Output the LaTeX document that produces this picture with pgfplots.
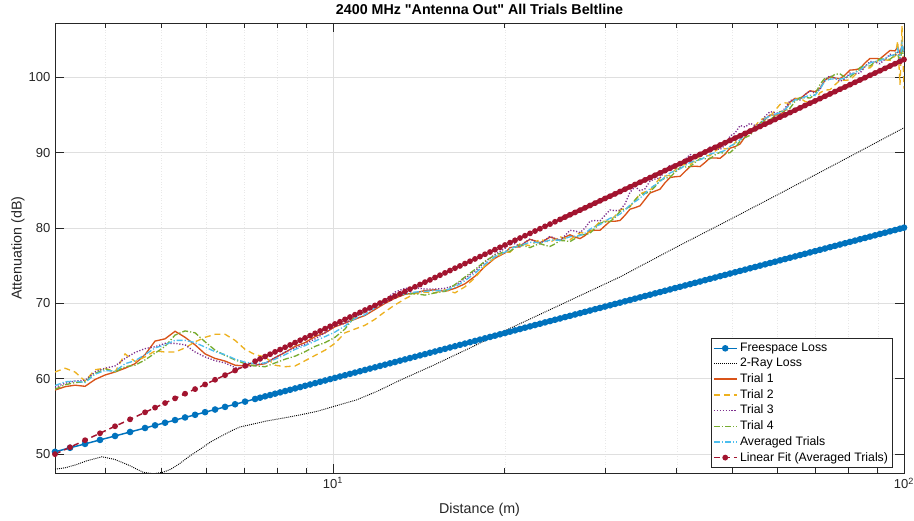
\documentclass[border=0pt]{standalone}
\usepackage{fontspec}
\setmainfont{Liberation Sans}[Ligatures=TeXOff]
\usepackage{pgfplots}
\pgfplotsset{compat=1.18}
\usepackage{pgfplotstable}

\definecolor{cFS}{rgb}{0,0.447,0.741}
\definecolor{cTa}{rgb}{0.851,0.325,0.098}
\definecolor{cTb}{rgb}{0.929,0.694,0.125}
\definecolor{cTc}{rgb}{0.494,0.184,0.557}
\definecolor{cTd}{rgb}{0.466,0.674,0.188}
\definecolor{cAV}{rgb}{0.301,0.745,0.933}
\definecolor{cFit}{rgb}{0.635,0.078,0.184}
\definecolor{axgray}{rgb}{0.15,0.15,0.15}

\pgfplotstableread{
d fs fit
3.260 50.31 50.00
3.464 50.84 50.92
3.680 51.36 51.85
3.909 51.89 52.77
4.153 52.41 53.70
4.412 52.94 54.62
4.687 53.47 55.55
4.880 53.82 56.17
5.081 54.17 56.78
5.290 54.52 57.40
5.508 54.87 58.02
5.735 55.22 58.63
5.971 55.57 59.25
6.217 55.92 59.87
6.472 56.27 60.48
6.739 56.62 61.10
7.016 56.97 61.72
7.305 57.32 62.33
7.454 57.49 62.64
7.606 57.67 62.95
7.761 57.84 63.26
7.919 58.02 63.57
8.080 58.19 63.87
8.245 58.37 64.18
8.413 58.54 64.49
8.584 58.72 64.80
8.759 58.89 65.11
8.937 59.07 65.42
9.119 59.24 65.72
9.305 59.42 66.03
9.495 59.60 66.34
9.688 59.77 66.65
9.885 59.95 66.96
10.081 60.12 67.27
10.287 60.30 67.57
10.496 60.47 67.88
10.710 60.65 68.19
10.928 60.82 68.50
11.151 61.00 68.81
11.378 61.17 69.12
11.610 61.35 69.42
11.846 61.52 69.73
12.087 61.70 70.04
12.333 61.87 70.35
12.584 62.05 70.66
12.841 62.22 70.97
13.103 62.40 71.27
13.369 62.57 71.58
13.641 62.75 71.89
13.920 62.92 72.20
14.203 63.10 72.51
14.492 63.27 72.82
14.787 63.45 73.12
15.089 63.62 73.43
15.396 63.80 73.74
15.710 63.97 74.05
16.030 64.15 74.36
16.356 64.32 74.67
16.689 64.50 74.97
17.029 64.67 75.28
17.376 64.85 75.59
17.730 65.02 75.90
18.091 65.20 76.21
18.460 65.37 76.52
18.836 65.55 76.82
19.220 65.72 77.13
19.611 65.90 77.44
20.011 66.07 77.75
20.418 66.25 78.06
20.834 66.42 78.37
21.258 66.60 78.67
21.692 66.78 78.98
22.134 66.95 79.29
22.584 67.13 79.60
23.044 67.30 79.91
23.514 67.48 80.22
23.993 67.65 80.52
24.482 67.83 80.83
24.981 68.00 81.14
25.489 68.18 81.45
26.008 68.35 81.76
26.538 68.53 82.07
27.079 68.70 82.37
27.630 68.88 82.68
28.193 69.05 82.99
28.768 69.23 83.30
29.354 69.40 83.61
29.952 69.58 83.92
30.562 69.75 84.22
31.185 69.93 84.53
31.820 70.10 84.84
32.468 70.28 85.15
33.129 70.45 85.46
33.804 70.63 85.77
34.493 70.80 86.07
35.196 70.98 86.38
35.913 71.15 86.69
36.644 71.33 87.00
37.390 71.50 87.31
38.152 71.68 87.62
38.929 71.85 87.92
39.722 72.03 88.23
40.531 72.20 88.54
41.357 72.38 88.85
42.199 72.55 89.16
43.059 72.73 89.47
43.936 72.90 89.77
44.831 73.08 90.08
45.744 73.26 90.39
46.676 73.43 90.70
47.627 73.61 91.01
48.597 73.78 91.32
49.587 73.96 91.62
50.597 74.13 91.93
51.628 74.31 92.24
52.680 74.48 92.55
53.753 74.66 92.86
54.848 74.83 93.16
55.965 75.01 93.47
57.105 75.18 93.78
58.268 75.36 94.09
59.455 75.53 94.40
60.666 75.71 94.71
61.902 75.88 95.01
63.163 76.06 95.32
64.450 76.23 95.63
65.763 76.41 95.94
67.08 76.58 96.25
68.45 76.76 96.56
69.84 76.93 96.86
71.27 77.11 97.17
72.72 77.28 97.48
74.20 77.46 97.79
75.71 77.63 98.10
77.25 77.81 98.41
78.83 77.98 98.71
80.43 78.16 99.02
82.07 78.33 99.33
83.74 78.51 99.64
85.45 78.68 99.95
87.19 78.86 100.26
88.96 79.03 100.56
90.77 79.21 100.87
92.62 79.38 101.18
94.51 79.56 101.49
96.44 79.73 101.80
98.40 79.91 102.11
100.00 80.05 102.35
}\fsfit

\pgfplotstableread{
d tworay
3.26 48.0
3.40 48.2
3.55 48.6
3.70 49.1
3.94 49.65
4.15 49.3
4.40 48.5
4.65 47.6
4.85 47.4
5.04 47.6
5.20 48.0
5.39 48.75
5.60 49.7
5.85 50.65
6.10 51.6
6.34 52.3
6.60 53.0
6.87 53.6
7.25 54.0
7.65 54.4
8.2 54.8
8.75 55.2
9.4 55.7
10 56.3
11 57.2
12 58.4
13.1 59.8
15 61.8
17.5 64.2
20.1 66.45
25 69.8
31.8 73.5
40 77.5
49.2 81.0
60 84.4
80 89.4
100 93.3
}\tworay

\pgfplotstableread{
d A T1 T2 T3 T4
3.260 59.1 58.5 60.9 58.85 58.6
3.395 59.6 58.95 61.4 59.4 59.2
3.534 59.7 59.15 60.9 59.7 59.5
3.680 59.5 59.0 59.7 59.8 59.6
3.831 60.6 59.9 61.2 60.9 60.7
3.989 61.1 60.5 61.4 61.4 61.3
4.153 61.0 60.9 60.9 61.7 60.9
4.324 62.0 61.4 63.3 62.7 61.6
4.502 62.4 62.0 62.3 63.5 61.8
4.687 63.2 63.2 62.9 64.0 62.5
4.880 64.1 65.0 63.7 64.25 63.4
5.081 64.5 65.3 63.55 64.7 64.3
5.290 65.1 66.3 63.55 64.7 65.8
5.508 65.1 65.5 64.1 64.5 66.35
5.735 64.8 64.5 64.9 63.55 66.1
5.971 64.2 63.3 65.5 62.9 64.9
6.217 63.6 62.7 65.9 62.4 63.8
6.472 63.2 62.35 65.9 62.1 63.1
6.739 62.6 61.8 65.1 61.5 62.5
7.016 62.2 61.7 63.9 61.5 62.0
7.305 62.0 61.8 63.2 61.8 61.7
7.606 62.1 62.0 62.9 62.1 61.6
7.919 62.6 62.8 61.8 62.8 62.1
8.245 63.2 63.5 61.6 63.55 62.6
8.584 63.9 64.3 61.7 64.1 63.0
8.937 64.4 64.8 62.4 64.6 63.6
9.305 65.0 65.6 63.1 65.3 64.3
9.688 65.6 66.1 63.8 66.1 64.8
10.081 66.2 66.9 64.7 67.0 65.5
10.496 67.0 67.4 66.1 67.35 66.6
10.928 68.0 67.9 66.6 68.2 68.3
11.378 68.5 68.4 67.1 68.8 68.9
11.846 69.4 69.2 67.9 69.6 69.8
12.333 70.2 70.0 68.9 70.5 70.5
12.841 70.9 70.7 69.8 71.5 71.0
13.369 71.3 71.2 70.6 72.0 71.2
13.920 71.5 71.4 71.3 72.1 71.3
14.492 71.6 71.7 71.5 71.9 71.1
15.089 71.7 71.8 71.4 71.9 71.4
15.710 71.7 71.6 71.8 72.0 71.6
16.356 72.2 72.0 71.4 72.4 72.5
17.029 73.0 72.6 72.2 73.3 73.5
17.730 74.0 73.6 73.4 74.3 74.5
18.460 75.2 74.9 75.0 75.5 75.6
19.220 76.2 76.0 76.1 76.5 76.4
20.011 76.8 76.7 76.8 77.3 76.9
20.418 77.25 77.4 76.8 78.0 76.9
20.834 77.5 77.5 77.4 77.9 77.4
21.258 77.6 77.5 77.9 77.6 77.75
21.692 77.9 78.1 77.8 78.1 77.6
22.134 78.1 78.5 77.65 78.55 77.4
22.584 78.1 78.3 78.1 78.2 77.7
23.044 78.05 78.05 78.5 77.9 77.95
23.514 78.2 78.4 78.3 78.4 77.7
23.993 78.4 78.8 78.1 78.9 77.55
24.482 78.4 78.6 78.5 78.6 77.9
24.981 78.4 78.4 78.85 78.4 78.35
25.489 78.6 78.8 78.6 79.0 78.3
26.008 78.85 79.1 78.45 79.7 78.2
26.538 78.9 78.8 78.9 79.6 78.6
27.079 79.0 78.6 79.4 79.4 79.1
27.630 79.3 79.0 79.3 80.0 79.1
28.193 79.85 79.65 79.45 80.9 79.3
28.768 80.2 79.7 80.2 81.0 80.0
29.354 80.45 79.7 80.85 80.95 80.65
29.952 80.9 80.3 80.9 81.7 80.8
30.562 81.3 80.9 80.95 82.4 80.85
31.185 81.5 80.9 81.6 82.3 81.4
31.820 81.85 81.0 82.4 82.35 82.2
32.468 82.4 81.7 82.6 83.2 82.5
33.129 83.05 82.5 82.85 84.75 82.85
33.804 83.5 82.7 83.7 85.5 83.7
34.493 83.95 82.95 84.55 84.95 84.4
35.196 84.6 83.8 84.8 85.2 84.6
35.913 85.25 84.65 85.0 86.25 84.8
36.644 85.7 84.9 85.8 86.5 85.5
37.390 86.15 85.15 86.65 86.65 86.3
38.152 86.8 86.0 86.9 87.6 86.6
38.929 87.3 86.7 87.0 88.35 86.75
39.722 87.6 86.8 87.7 88.3 87.4
40.531 87.85 86.85 88.35 88.3 88.0
41.357 88.3 87.5 88.4 89.1 88.1
42.199 88.7 88.15 88.4 89.75 88.15
43.059 88.9 88.2 89.0 89.6 88.7
43.936 89.05 88.15 89.6 89.45 89.2
44.831 89.4 88.7 89.6 90.1 89.2
45.744 89.8 89.3 89.6 90.75 89.2
46.676 90.0 89.3 90.2 90.6 89.7
47.627 90.05 89.25 90.65 90.4 90.05
48.597 90.3 89.8 90.5 91.0 89.9
49.587 90.85 90.6 90.6 92.2 90.0
50.597 91.2 90.8 91.3 92.6 90.6
51.628 91.7 91.15 92.2 93.6 91.55
52.680 92.4 92.1 92.5 93.4 92.0
53.753 92.95 92.9 92.7 93.9 92.3
54.848 93.3 93.1 93.5 93.6 93.1
55.965 93.8 93.45 94.35 93.8 93.95
57.105 94.5 94.4 94.6 94.8 94.3
58.268 94.9 95.0 94.8 95.45 94.35
59.455 95.1 95.0 95.6 95.3 94.9
60.666 95.3 95.0 96.4 95.2 95.45
61.902 95.7 95.6 96.6 95.9 95.5
63.163 96.45 96.7 96.55 96.9 95.9
64.450 97.0 97.2 97.1 97.1 96.8
65.763 97.1 97.15 97.25 97.0 97.3
67.08 97.4 97.7 96.8 97.7 97.3
68.45 97.6 98.2 96.6 98.2 97.25
69.84 97.6 98.1 97.0 97.9 97.7
71.27 98.45 98.55 97.95 98.4 99.05
72.72 99.5 99.6 98.3 99.7 99.9
74.20 99.75 100.05 98.35 100.2 99.9
75.71 99.8 99.9 99.0 99.9 100.4
77.25 99.75 99.8 99.6 99.45 100.45
78.83 99.9 100.3 99.6 99.8 100.0
80.43 100.35 100.95 99.65 100.55 100.05
82.07 100.6 101.0 100.3 100.5 100.6
83.74 100.95 101.15 101.05 100.55 101.3
85.45 101.5 101.9 101.2 101.4 101.5
87.19 101.9 102.5 101.25 102.1 101.5
88.96 102.1 102.5 101.9 102.0 102.0
90.77 102.2 102.45 102.4 101.8 102.45
92.62 102.5 103.0 102.3 102.4 102.4
94.51 102.85 103.55 102.25 103.05 102.4
96.44 103.0 103.5 102.8 102.9 102.9
97.5 103.8 104.0 104.8 103.3 103.0
98.4 102.2 103.2 99.0 102.6 102.2
99.2 104.5 104.2 106.8 104.0 103.6
100.0 103.2 103.5 98.5 103.2 102.8
}\trials

\begin{document}
\begin{tikzpicture}
\begin{axis}[
  scale only axis, width=636.75pt, height=337.5pt,
  xmode=log, xmin=3.26, xmax=100, ymin=47.5, ymax=107.2,
  xtick={10,100}, xticklabels={10\textsuperscript{1},10\textsuperscript{2}},
  minor xtick={4,5,6,7,8,9,20,30,40,50,60,70,80,90},
  ytick={50,60,70,80,90,100},
  /pgf/number format/assume math mode=true,
  tick label style={font=\fontsize{9.75}{11}\selectfont, text=axgray},
  label style={font=\fontsize{10.7}{12}\selectfont, text=axgray},
  title style={font=\bfseries\fontsize{10.7}{12}\selectfont, at={(0.5,1)}, anchor=base},
  title={2400 MHz "Antenna Out" All Trials Beltline},
  xlabel={Distance (m)}, ylabel={Attenuation (dB)},
  xlabel style={at={(axis description cs:0.5,-0.082)}, anchor=center},
  ylabel style={at={(axis description cs:-0.0436,0.5)}, anchor=center},
  axis line style={axgray, line width=0.6pt},
  tick style={axgray, line width=0.6pt},
  major tick length=6.4pt, minor tick length=3.75pt,
  tick align=inside,
  xmajorgrids, ymajorgrids, xminorgrids,
  major grid style={gray!25, line width=0.6pt},
  minor grid style={gray!18, dash pattern=on 0.5pt off 1.5pt, line width=0.4pt},
  legend cell align=left,
  legend style={at={(0.987,0.011)}, anchor=south east,
    font=\fontsize{9.2}{10.5}\selectfont, draw=axgray, line width=0.5pt,
    fill=white, inner sep=1.5pt, row sep=-0.4pt},
]
\addplot[forget plot, color=cFS, line width=3.4pt, skip coords between index={0}{64}] table[x=d, y=fs] {\fsfit};
\addplot[color=cFS, line width=1.1pt, mark=*, mark size=1.9pt, mark options={solid, fill=cFS}] table[x=d, y=fs] {\fsfit};
\addlegendentry{Freespace Loss}
\addplot[color=black, line width=0.7pt, dash pattern=on 0.7pt off 0.8pt] table[x=d, y=tworay] {\tworay};
\addlegendentry{2-Ray Loss}
\addplot[color=cTa, line width=1pt] table[x=d, y=T1] {\trials};
\addlegendentry{Trial 1}
\addplot[color=cTb, line width=1pt, dash pattern=on 4.5pt off 3pt] table[x=d, y=T2] {\trials};
\addlegendentry{Trial 2}
\addplot[color=cTc, line width=1pt, dash pattern=on 0.9pt off 1.3pt] table[x=d, y=T3] {\trials};
\addlegendentry{Trial 3}
\addplot[color=cTd, line width=1pt, dash pattern=on 4.5pt off 1.5pt on 0.9pt off 1.5pt] table[x=d, y=T4] {\trials};
\addlegendentry{Trial 4}
\addplot[color=cAV, line width=1pt, dash pattern=on 4.5pt off 1.5pt on 0.9pt off 1.5pt] table[x=d, y=A] {\trials};
\addlegendentry{Averaged Trials}
\addplot[forget plot, color=cFit, line width=3pt, skip coords between index={0}{78}] table[x=d, y=fit] {\fsfit};
\addplot[color=cFit, line width=1.1pt, dash pattern=on 4.5pt off 3pt, mark=*, mark size=1.6pt, mark options={solid, fill=cFit}] table[x=d, y=fit] {\fsfit};
\addlegendentry{Linear Fit (Averaged Trials)}
\end{axis}
\pgfresetboundingbox
\path ([xshift=-41.25pt,yshift=-36pt]current axis.south west) rectangle ([xshift=7.5pt,yshift=17.25pt]current axis.north east);
\end{tikzpicture}
\end{document}
